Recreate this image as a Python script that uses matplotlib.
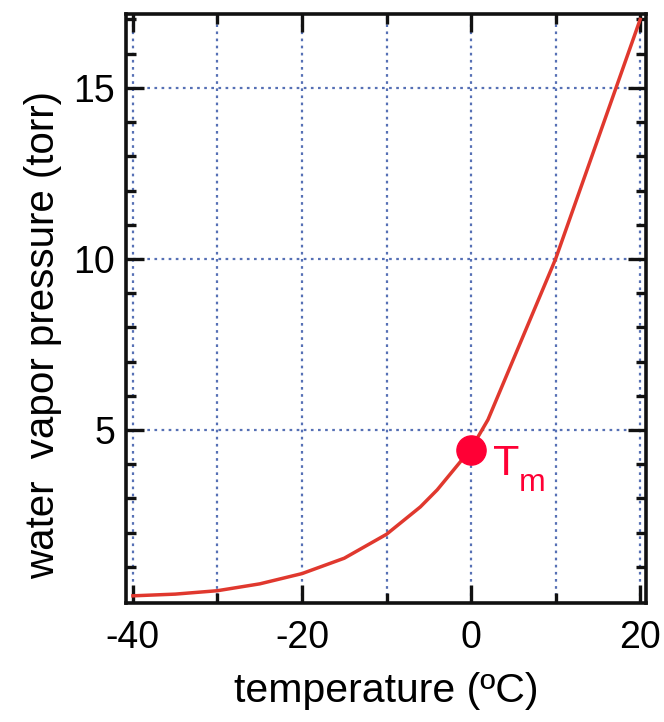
import numpy as np
import matplotlib
matplotlib.use("Agg")
import matplotlib.pyplot as plt
from matplotlib.ticker import FixedLocator

plt.rcParams['font.family'] = ['Liberation Sans', 'DejaVu Sans']
plt.rcParams['axes.unicode_minus'] = False

# vapour pressure of water (torr) vs temperature (C)
temp_c = [-40, -35, -30, -25, -20, -15, -10, -8, -6, -4, -2, 0, 2, 10, 20]
p_torr = [0.15, 0.2, 0.3, 0.5, 0.8, 1.25, 1.95, 2.35, 2.75, 3.25, 3.85, 4.45, 5.3, 10.0, 17.0]
tm_point = (0, 4.4)

x_major = [-40, -20, 0, 20]
x_minor = [-30, -10, 10]
y_major = [5, 10, 15]
y_minor = [1, 2, 3, 4, 6, 7, 8, 9, 11, 12, 13, 14, 16, 17]

fig = plt.figure(figsize=(6.64, 7.22), dpi=100)
ax = fig.add_axes([0.19, 0.1648, 0.783, 0.8158])

ax.plot(temp_c, p_torr, color="#E0382E", lw=2.5, zorder=3, solid_joinstyle="miter")
ax.plot(*tm_point, "o", color="#FF0035", ms=21, zorder=4)
ax.text(2.6, 4.0, "T", color="#FF0035", fontsize=31, va="center", ha="left")
ax.text(5.6, 3.45, "m", color="#FF0035", fontsize=23, va="center", ha="left")

ax.set_xlim(-40.8, 20.7)
ax.set_ylim(-0.06, 17.16)

ax.xaxis.set_major_locator(FixedLocator(x_major))
ax.xaxis.set_minor_locator(FixedLocator(x_minor))
ax.yaxis.set_major_locator(FixedLocator(y_major))
ax.yaxis.set_minor_locator(FixedLocator(y_minor))

ax.tick_params(which="both", direction="in", top=True, right=True, width=2.4, color="#111111")
ax.tick_params(which="major", length=13, labelsize=27, pad=12)
ax.tick_params(which="minor", length=7)
ax.tick_params(axis="y", which="major", pad=8)

grid_kw = dict(color="#5670B5", ls=(0, (1.2, 2.0)), lw=1.6)
for x in x_major + x_minor:
    ax.axvline(x, zorder=1, **grid_kw)
for y in y_major:
    ax.axhline(y, zorder=1, **grid_kw)

for sp in ax.spines.values():
    sp.set_linewidth(2.6)
    sp.set_color("#111111")

ax.set_xlabel("temperature (ºC)", fontsize=29.5, labelpad=12)
ax.set_ylabel("water  vapor pressure (torr)", fontsize=29)
ax.yaxis.set_label_coords(-0.124, 0.455)

fig.savefig("out.png", dpi=100)
